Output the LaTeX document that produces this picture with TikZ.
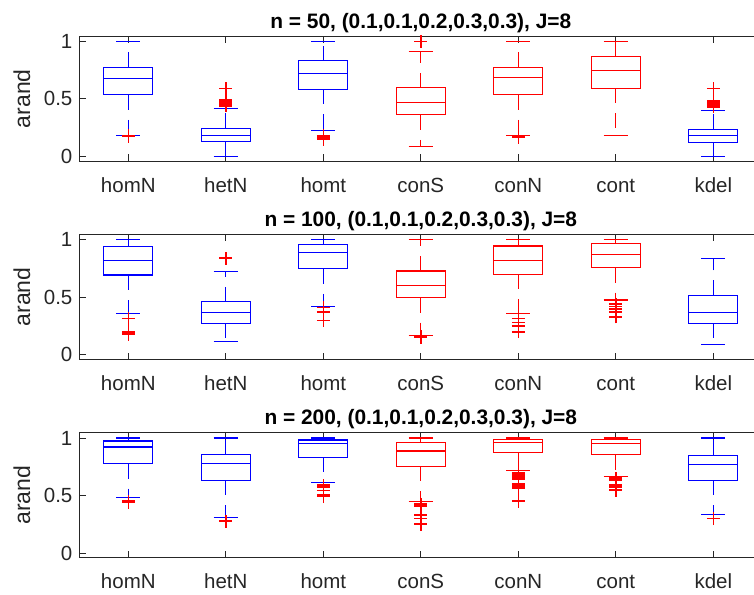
\documentclass[tikz,border=0pt]{standalone}
\usepackage{fontspec}
\setmainfont{Liberation Sans}
\definecolor{axgray}{rgb}{0.15,0.15,0.15}

\tikzset{
  axln/.style={draw=axgray, line width=0.8pt},
  bxln/.style={line width=1.1pt},
  whisk/.style={line width=1.1pt, dash pattern=on 15pt off 10pt},
  outl/.style={red, line width=1.6pt},
  ticklbl/.style={text=axgray, inner sep=0pt, font=\fontsize{20.5}{24}\selectfont},
  ylbl/.style={text=axgray, inner sep=0pt, rotate=90, anchor=base, font=\fontsize{23}{27}\selectfont},
  ttl/.style={inner sep=0pt, anchor=base, font=\fontsize{20.9}{25}\selectfont\bfseries}
}

% one box: x, colour, lower cap, q1, median, q3, upper cap
\newcommand{\bxplot}[7]{%
  \draw[color=#2, bxln] (#1-0.25,#4) rectangle (#1+0.25,#6);
  \draw[color=#2, bxln] (#1-0.25,#5) -- (#1+0.25,#5);
  \draw[color=#2, whisk] (#1,#6) -- (#1,#7);
  \draw[color=#2, whisk] (#1,#4) -- (#1,#3);
  \draw[color=#2, bxln] (#1-0.125,#7) -- (#1+0.125,#7);
  \draw[color=#2, bxln] (#1-0.125,#3) -- (#1+0.125,#3);
}
% outlier marker
\newcommand{\outpt}[2]{%
  \draw[outl] (#1,#2) ++(-6.5pt,0) -- ++(13pt,0) (#1,#2) ++(0,-6.5pt) -- ++(0,13pt);
}
% axes frame, ticks and labels of one panel
\newcommand{\panelframe}[1]{%
  \draw[axln] (7.42,1.045) -- (0.5,1.045) -- (0.5,-0.041) -- (7.42,-0.041);
  \foreach \i/\lbl in {1/homN,2/hetN,3/homt,4/conS,5/conN,6/cont,7/kdel} {
    \draw[axln] (\i,-0.041) -- ++(0,6.8pt);
    \draw[axln] (\i,1.045) -- ++(0,-6.8pt);
    \node[ticklbl, anchor=base] (xl-\i) at ([yshift=-31pt]\i,-0.041) {\lbl};
  }
  \foreach \v in {0,0.5,1} {
    \draw[axln] (0.5,\v) -- ++(6.8pt,0);
    \node[ticklbl, anchor=east] (yl-\v) at ([xshift=-7pt]0.5,\v) {\v};
  }
  \node[ylbl] (ylab) at (-0.8pt,0.502) {arand};
  \node[ttl] (title) at ([yshift=8pt]4,1.045) {n = #1, (0.1,0.1,0.2,0.3,0.3), J=8};
}

\begin{document}
\begin{tikzpicture}[x=97.5pt, y=115pt]
  \useasboundingbox (-30.8pt,156.4pt) rectangle (723.2pt,-437.6pt);

  % n = 50
  \panelframe{50}
  \foreach \i/\c/\lo/\qa/\md/\qb/\hi in {1/blue/.183/.536/.678/.774/1, 2/blue/0/.13/.18/.243/.415,
      3/blue/.229/.583/.724/.832/1, 4/red/.084/.362/.47/.597/.91, 5/red/.18/.536/.684/.774/1,
      6/red/.18/.594/.745/.872/1, 7/blue/0/.124/.185/.237/.403}
    \bxplot{\i}{\c}{\lo}{\qa}{\md}{\qb}{\hi};
  \foreach \i/\v in {1/.177, 1/.18, 2/.592, 2/.49, 2/.475, 2/.455, 2/.44, 3/.18, 3/.165, 3/.15,
      4/1, 5/.175, 5/.165, 7/.592, 7/.48, 7/.47, 7/.46, 7/.45, 7/.44, 7/.43}
    \outpt{\i}{\v};

  % n = 100
  \begin{scope}[yshift=-198.3pt]
  \panelframe{100}
  \foreach \i/\c/\lo/\qa/\md/\qb/\hi in {1/blue/.357/.693/.818/.941/1, 2/blue/.114/.272/.368/.462/.725,
      3/blue/.421/.746/.889/.962/1, 4/red/.17/.497/.605/.728/1, 5/red/.357/.699/.818/.945/1,
      6/red/.476/.757/.875/.965/1, 7/blue/.09/.275/.366/.515/.839}
    \bxplot{\i}{\c}{\lo}{\qa}{\md}{\qb}{\hi};
  \foreach \i/\v in {1/.316, 1/.2, 1/.19, 1/.18, 2/.839, 3/.41, 3/.371, 3/.298, 4/.16, 4/.15,
      5/.316, 5/.28, 5/.25, 5/.2, 6/.44, 6/.42, 6/.4, 6/.37, 6/.33}
    \outpt{\i}{\v};
  \end{scope}

  % n = 200
  \begin{scope}[yshift=-396.6pt]
  \panelframe{200}
  \foreach \i/\c/\lo/\qa/\md/\qb/\hi in {1/blue/.486/.778/.922/.974/1, 2/blue/.31/.633/.78/.856/1,
      3/blue/.616/.833/.951/.983/1, 4/red/.445/.755/.887/.963/1, 5/red/.72/.873/.957/.986/1,
      6/red/.668/.856/.951/.986/1, 7/blue/.336/.633/.769/.85/1}
    \bxplot{\i}{\c}{\lo}{\qa}{\md}{\qb}{\hi};
  \foreach \i/\v in {1/.45, 1/.44, 2/.278, 3/.59, 3/.575, 3/.545, 3/.505, 3/.49,
      4/.425, 4/.408, 4/.33, 4/.3, 4/.25, 5/.7, 5/.69, 5/.68, 5/.67, 5/.66, 5/.65, 5/.64,
      5/.6, 5/.59, 5/.58, 5/.57, 5/.56, 5/.45, 6/.65, 6/.635, 6/.59, 6/.575, 6/.547, 7/.3}
    \outpt{\i}{\v};
  \end{scope}
\end{tikzpicture}
\end{document}
